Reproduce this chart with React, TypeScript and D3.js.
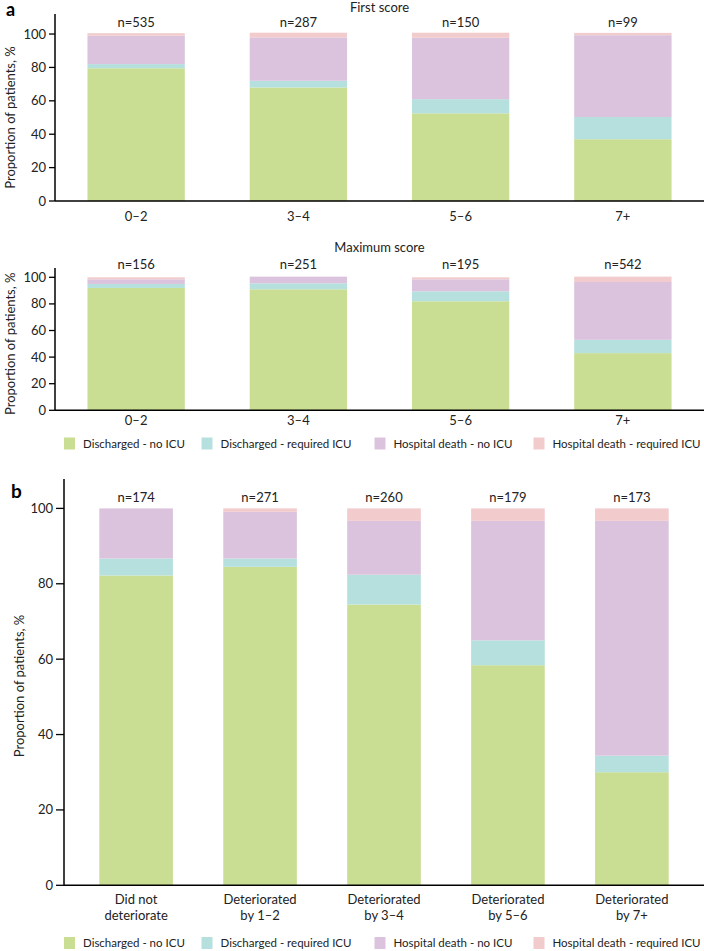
import React from "react";
import * as d3 from "d3";

const seriesNames = [
  "Discharged - no ICU",
  "Discharged - required ICU",
  "Hospital death - no ICU",
  "Hospital death - required ICU",
];
const seriesColors = ["#c9de93", "#b5e0de", "#dbc3dd", "#f2cbcd"];

// Panel a - first score
const firstCats = ["0–2", "3–4", "5–6", "7+"];
const firstN = ["n=535", "n=287", "n=150", "n=99"];
const firstDischNoICU = [79.5, 68, 52.5, 37];
const firstDischICU = [2.5, 4, 8.5, 13.3];
const firstDeathNoICU = [17, 26, 36.8, 49];
const firstDeathICU = [1.5, 2.8, 3, 1.4];

// Panel a - maximum score
const maxCats = ["0–2", "3–4", "5–6", "7+"];
const maxN = ["n=156", "n=251", "n=195", "n=542"];
const maxDischNoICU = [92, 91, 82, 43];
const maxDischICU = [3, 4.5, 7.5, 10];
const maxDeathNoICU = [3.5, 5, 9, 43.5];
const maxDeathICU = [1.5, 0, 1.5, 4];

// Panel b - deterioration
const detCats = [
  "Did not\ndeteriorate",
  "Deteriorated\nby 1–2",
  "Deteriorated\nby 3–4",
  "Deteriorated\nby 5–6",
  "Deteriorated\nby 7+",
];
const detN = ["n=174", "n=271", "n=260", "n=179", "n=173"];
const detDischNoICU = [82.2, 84.5, 74.5, 58.4, 30];
const detDischICU = [4.5, 2.2, 7.9, 6.6, 4.4];
const detDeathNoICU = [13.3, 12.4, 14.3, 31.7, 62.3];
const detDeathICU = [0, 0.9, 3.3, 3.3, 3.3];

const yTicks = [0, 20, 40, 60, 80, 100];

const FONT = "Lato, 'Open Sans', sans-serif";
const FS = 13;
const LEG_FS = 11.5;
const TXT = "#222";

type PanelProps = {
  cats: string[];
  nLabels: string[];
  series: number[][];
  x0: number;
  x1: number;
  yBottom: number;
  yTop: number;
  ymax: number;
  padInner: number;
  padOuter: number;
  tickLen: number;
  nY: number;
  xLabelY: number;
  yLabelX: number;
  yLabelY?: number;
  title?: string;
  titleY?: number;
};

function Panel(p: PanelProps) {
  const x = d3
    .scaleBand<string>()
    .domain(p.cats)
    .range([p.x0, p.x1])
    .paddingInner(p.padInner)
    .paddingOuter(p.padOuter);
  const y = d3.scaleLinear().domain([0, p.ymax]).range([p.yBottom, p.yTop]);
  const rows = p.cats.map((c, i) => {
    const r: any = { cat: c };
    seriesNames.forEach((s, k) => (r[s] = p.series[k][i]));
    return r;
  });
  const stacked = d3.stack<any>().keys(seriesNames)(rows);
  const yMid = p.yLabelY ?? (y(0) + y(100)) / 2;
  return (
    <g>
      {stacked.map((layer, k) => (
        <g key={k} fill={seriesColors[k]}>
          {layer.map((d, i) =>
            d[1] - d[0] > 0 ? (
              <rect
                key={i}
                x={x(p.cats[i])}
                width={x.bandwidth()}
                y={y(d[1])}
                height={y(d[0]) - y(d[1])}
              />
            ) : null
          )}
        </g>
      ))}
      {p.cats.map((c, i) => (
        <text
          key={"n" + i}
          x={(x(c) as number) + x.bandwidth() / 2}
          y={p.nY}
          textAnchor="middle"
          fontSize={FS}
          fill={TXT}
        >
          {p.nLabels[i]}
        </text>
      ))}
      {p.cats.map((c, i) => (
        <text
          key={"x" + i}
          x={(x(c) as number) + x.bandwidth() / 2}
          y={p.xLabelY}
          textAnchor="middle"
          fontSize={FS}
          fill={TXT}
        >
          {c.split("\n").map((line, j) => (
            <tspan key={j} x={(x(c) as number) + x.bandwidth() / 2} dy={j === 0 ? 0 : 16}>
              {line}
            </tspan>
          ))}
        </text>
      ))}
      {yTicks.map((t) => (
        <g key={t}>
          <line
            x1={p.x0 - p.tickLen}
            x2={p.x0}
            y1={y(t)}
            y2={y(t)}
            stroke="#000"
            strokeWidth={1.3}
          />
          <text
            x={p.x0 - p.tickLen - 3}
            y={y(t)}
            dy="0.35em"
            textAnchor="end"
            fontSize={FS}
            fill={TXT}
          >
            {t}
          </text>
        </g>
      ))}
      <line x1={p.x0} x2={p.x0} y1={p.yTop} y2={p.yBottom} stroke="#000" strokeWidth={1.5} />
      <line x1={p.x0} x2={p.x1} y1={p.yBottom} y2={p.yBottom} stroke="#000" strokeWidth={1.5} />
      <text
        transform={`translate(${p.yLabelX},${yMid}) rotate(-90)`}
        textAnchor="middle"
        fontSize={FS}
        fill={TXT}
      >
        Proportion of patients, %
      </text>
      {p.title ? (
        <text x={(p.x0 + p.x1) / 2} y={p.titleY} textAnchor="middle" fontSize={FS} fill={TXT}>
          {p.title}
        </text>
      ) : null}
    </g>
  );
}

const legendSwatchX = [64, 201.5, 374.5, 533.5];

function Legend({ cy }: { cy: number }) {
  return (
    <g>
      {seriesNames.map((s, k) => (
        <g key={s}>
          <rect x={legendSwatchX[k]} y={cy - 6} width={11} height={12} fill={seriesColors[k]} />
          <text x={legendSwatchX[k] + 19} y={cy} dy="0.35em" fontSize={LEG_FS} fill={TXT}>
            {s}
          </text>
        </g>
      ))}
    </g>
  );
}

export default function App() {
  return (
    <svg
      width={704}
      height={951}
      style={{ position: "absolute", left: 0, top: 0, fontFamily: FONT }}
    >
      <rect width={704} height={951} fill="#fff" />
      <text x={6} y={16} fontSize={18} fontWeight="bold" fill="#000">
        a
      </text>
      <Panel
        cats={firstCats}
        nLabels={firstN}
        series={[firstDischNoICU, firstDischICU, firstDeathNoICU, firstDeathICU]}
        x0={55}
        x1={704}
        yBottom={201}
        yTop={14}
        ymax={112}
        padInner={0.4}
        padOuter={0.2}
        tickLen={6}
        nY={26.5}
        xLabelY={221}
        yLabelX={15}
        title="First score"
        titleY={11.5}
      />
      <Panel
        cats={maxCats}
        nLabels={maxN}
        series={[maxDischNoICU, maxDischICU, maxDeathNoICU, maxDeathICU]}
        x0={55}
        x1={704}
        yBottom={410.3}
        yTop={268}
        ymax={107}
        padInner={0.4}
        padOuter={0.2}
        tickLen={6}
        nY={269}
        xLabelY={425}
        yLabelX={15}
        title="Maximum score"
        titleY={252}
      />
      <Legend cy={443.5} />
      <text x={11} y={498} fontSize={19} fontWeight="bold" fill="#000">
        b
      </text>
      <Panel
        cats={detCats}
        nLabels={detN}
        series={[detDischNoICU, detDischICU, detDeathNoICU, detDeathICU]}
        x0={64}
        x1={704}
        yBottom={885.3}
        yTop={479}
        ymax={107.8}
        padInner={0.406}
        padOuter={0.285}
        tickLen={8}
        nY={502}
        xLabelY={904}
        yLabelX={24}
        yLabelY={686}
      />
      <Legend cy={943} />
    </svg>
  );
}
